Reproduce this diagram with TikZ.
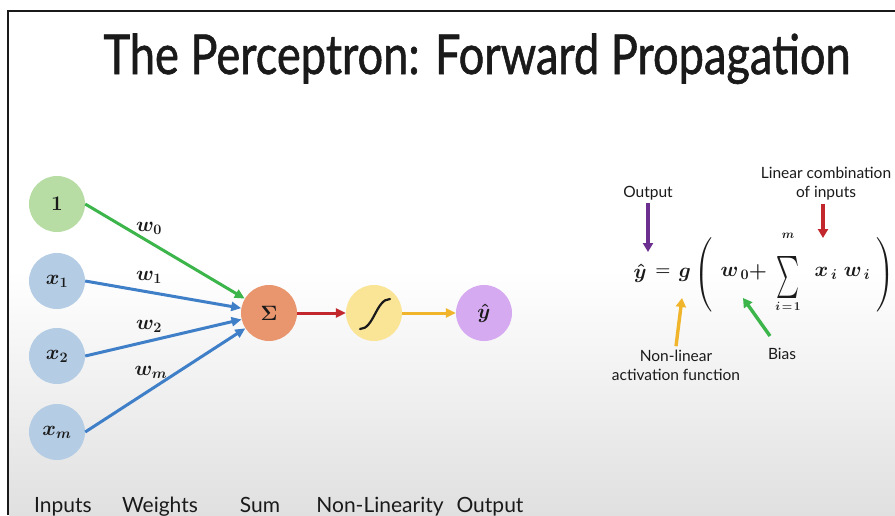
\documentclass[tikz,border=0pt]{standalone}
\usepackage[no-math]{fontspec}
\setmainfont{Lato}
\newfontfamily\titlefont{Lato}[FakeBold=1.2]
\usepackage{amsmath}
\usepackage{graphicx}
\usetikzlibrary{arrows.meta}
\definecolor{txt}{HTML}{1A1A1A}
\definecolor{gline}{HTML}{3CB54A}
\definecolor{bline}{HTML}{3F7FC8}
\definecolor{rline}{HTML}{C1272D}
\definecolor{yline}{HTML}{F1B52C}
\definecolor{pline}{HTML}{6B2F8F}
\definecolor{fone}{HTML}{B7DDA4}
\definecolor{fin}{HTML}{B4CCE4}
\definecolor{fsum}{HTML}{E9966E}
\definecolor{fact}{HTML}{FAE496}
\definecolor{fout}{HTML}{D6AAF0}
\definecolor{bgbot}{HTML}{E0E0E0}
\begin{document}
\begin{tikzpicture}[x=1pt,y=-1pt,
  neuron/.style={circle,minimum size=56pt,inner sep=0pt,text=txt,font=\fontsize{21}{22}\selectfont\boldmath},
  wire/.style={line width=3pt,-{Triangle[length=10pt,width=9pt]}},
  annarrow/.style={line width=3.4pt,-{Triangle[length=9pt,width=10pt]}},
  wlabel/.style={text=txt,font=\fontsize{20}{22}\selectfont\boldmath},
  ann/.style={text=txt,align=center,font=\fontsize{15.5}{19}\selectfont},
  bottomlbl/.style={text=txt,anchor=base,font=\fontsize{21}{24}\selectfont},
  eq/.style={text=txt,font=\fontsize{22}{24}\selectfont\boldmath,inner sep=0pt}]
\useasboundingbox (0,0) rectangle (895,515);
% background
\fill[white] (0,0) rectangle (895,515);
\shade[top color=white,bottom color=bgbot] (9,270) rectangle (895,515);
\draw[line width=2pt,txt] (8,515) -- (8,11) -- (895,11);
% title
\node[text=txt,anchor=base] (title) at (477,74)
  {\resizebox{747pt}{\height}{\fontsize{55}{60}\titlefont The Perceptron: Forward Propagation}};
% neurons
\node[neuron,fill=fone] (one) at (57,204) {$1$};
\node[neuron,fill=fin] (x1) at (57,281) {$x_1$};
\node[neuron,fill=fin] (x2) at (57,356) {$x_2$};
\node[neuron,fill=fin] (xm) at (57,432) {$x_m$};
\node[neuron,fill=fsum] (sum) at (269,313) {$\Sigma$};
\node[neuron,fill=fact] (act) at (374,313) {};
\node[neuron,fill=fout] (out) at (484,313) {$\hat{y}$};
\draw[line width=2.2pt,txt,line cap=round]
  ([shift={(-14,16)}]act.center) .. controls ([shift={(0,16)}]act.center) and ([shift={(2,-14)}]act.center) .. ([shift={(16,-14)}]act.center);
% connectors
\draw[wire,gline] (one.east) -- (sum);
\draw[wire,bline] (x1.east) -- (sum);
\draw[wire,bline] (x2.east) -- (sum);
\draw[wire,bline] (xm.east) -- (sum);
\draw[wire,rline] (sum) -- (act);
\draw[wire,yline] (act) -- (out);
% weight labels
\node[wlabel] (w0) at (149,228) {$w_0$};
\node[wlabel] (w1) at (149,277) {$w_1$};
\node[wlabel] (w2) at (149,326) {$w_2$};
\node[wlabel] (wm) at (151,372) {$w_m$};
% bottom labels
\node[bottomlbl] (linputs) at (63,512) {Inputs};
\node[bottomlbl] (lweights) at (160,512) {Weights};
\node[bottomlbl] (lsum) at (260,512) {Sum};
\node[bottomlbl] (lnonlin) at (380,512) {Non-Linearity};
\node[bottomlbl] (loutput) at (490,512) {Output};
% equation
\node[eq] (eyhat) at (640,273) {$\hat{y}$};
\node[eq,font=\fontsize{18}{20}\selectfont\boldmath] (eeq) at (663,272) {$=$};
\node[eq] (eg) at (685,275) {$g$};
\node[eq,font=\fontsize{20}{22}\selectfont] (elp) at (704,275) {$\left(\vrule height 30pt depth 30pt width 0pt\right.$};
\node[eq] (ew0) at (735,273) {$w_{\,0}$};
\node[eq] (eplus) at (758,272) {$+$};
\node[eq] (esum) at (788,277) {\resizebox*{23pt}{42pt}{$\sum$}};
\node[eq,font=\fontsize{13}{14}\selectfont\boldmath] (etop) at (788,236) {$m$};
\node[eq,font=\fontsize{13}{14}\selectfont\boldmath] (ebot) at (788,306) {$i\!=\!1$};
\node[eq] (exi) at (826,273) {$x_{\,i}$};
\node[eq] (ewi) at (857,273) {$w_{\,i}$};
\node[eq,font=\fontsize{20}{22}\selectfont] (erp) at (885,275) {$\left.\vrule height 30pt depth 30pt width 0pt\right)$};
% annotations
\node[ann] (aout) at (648,193) {Output};
\node[ann] (alin) at (826,184) {Linear combination\\of inputs};
\node[ann] (anl) at (676,365) {Non-linear\\activation function};
\node[ann] (abias) at (782,354) {Bias};
\coordinate (tout) at (648,252);
\coordinate (tlin) at (823,238);
\coordinate (tg) at (682,298);
\coordinate (tw0) at (743,298);
\coordinate (sbias) at (770,336);
\draw[annarrow,pline] (aout.south) -- (tout);
\draw[annarrow,rline] (alin.south -| tlin) -- (tlin);
\draw[annarrow,yline] (anl.north) -- (tg);
\draw[annarrow,gline] (sbias) -- (tw0);
\end{tikzpicture}
\end{document}
